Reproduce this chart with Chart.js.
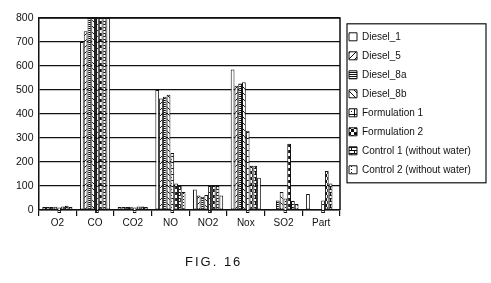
<!DOCTYPE html>
<html>
<head>
<meta charset="utf-8">
<script src="https://cdn.jsdelivr.net/npm/chart.js@4.4.1/dist/chart.umd.min.js"></script>
<style>
  html, body { margin: 0; padding: 0; background: #fff; }
  #wrap { position: relative; width: 491px; height: 283px; }
  #fig { position: absolute; left: 185px; top: 254px; font: 13px "Liberation Sans", sans-serif; letter-spacing: 2px; color: #111; }
</style>
</head>
<body>
<div id="wrap">
  <canvas id="grafico" width="491" height="283"></canvas>
  <div id="fig">FIG. 16</div>
</div>
<script>
// categorias e valores
var categorias = ["O2", "CO", "CO2", "NO", "NO2", "Nox", "SO2", "Part"];
var series = ["Diesel_1", "Diesel_5", "Diesel_8a", "Diesel_8b", "Formulation 1", "Formulation 2", "Control 1 (without water)", "Control 2 (without water)"];

var diesel1 = [12, 700, 12, 500, 85, 585, 0, 67];
var diesel5 = [12, 745, 12, 465, 60, 518, 0, 0];
var diesel8a = [12, 800, 12, 472, 55, 527, 40, 0];
var diesel8b = [14, 800, 14, 480, 62, 532, 75, 0];
var formulation1 = [10, 800, 10, 237, 100, 330, 48, 40];
var formulation1Base = -12;
var formulation2 = [15, 800, 15, 110, 100, 184, 276, 163];
var control1 = [18, 800, 15, 100, 100, 184, 38, 110];
var control2 = [12, 800, 12, 75, 60, 134, 25, 0];

var yTicks = [0, 100, 200, 300, 400, 500, 600, 700, 800];

// padroes preto e branco
function padrao(tipo) {
    var c = document.createElement("canvas");
    c.width = 6; c.height = 6;
    var g = c.getContext("2d");
    g.fillStyle = "#fff";
    g.fillRect(0, 0, 6, 6);
    g.strokeStyle = "#111";
    g.fillStyle = "#111";
    g.lineWidth = 1;
    if (tipo == "slash") {
        g.beginPath(); g.moveTo(0, 6); g.lineTo(6, 0); g.stroke();
    } else if (tipo == "hlines") {
        g.fillRect(0, 0, 6, 1); g.fillRect(0, 2, 6, 1); g.fillRect(0, 4, 6, 1);
    } else if (tipo == "backslash") {
        g.beginPath(); g.moveTo(0, 0); g.lineTo(6, 6); g.stroke();
    } else if (tipo == "grid") {
        g.fillRect(0, 0, 6, 1); g.fillRect(0, 0, 1, 6); g.fillRect(3, 3, 1, 1);
    } else if (tipo == "checker") {
        g.fillRect(0, 0, 3, 3); g.fillRect(3, 3, 3, 3);
    } else if (tipo == "brick") {
        g.fillRect(0, 0, 6, 1); g.fillRect(0, 3, 6, 1); g.fillRect(0, 0, 1, 3); g.fillRect(3, 3, 1, 3);
    } else if (tipo == "vline") {
        g.fillRect(3, 1, 1, 1); g.fillRect(3, 4, 1, 1);
    }
    return g.createPattern(c, "repeat");
}

var ctx = document.getElementById("grafico").getContext("2d");

function ds(label, data, tipo, extra) {
    var d = {
        label: label,
        data: data,
        backgroundColor: tipo ? padrao(tipo) : "#fff",
        borderColor: "#111",
        borderWidth: 1,
        borderSkipped: false
    };
    for (var k in extra) d[k] = extra[k];
    return d;
}

var larguraLegenda = 151;

var borda = {
    id: "borda",
    afterInit: function (chart) {
        // legenda mais larga, o texto nao cabe na medida padrao
        var lg = chart.legend;
        var fitOrig = lg.fit;
        lg.fit = function () {
            fitOrig.call(this);
            this.width = larguraLegenda;
        };
    },
    afterDraw: function (chart) {
        var a = chart.chartArea;
        var g = chart.ctx;
        g.save();
        g.strokeStyle = "#111";
        g.lineWidth = 1.5;
        g.beginPath();
        g.moveTo(a.left, a.top);
        g.lineTo(a.right, a.top);
        g.lineTo(a.right, a.bottom);
        g.stroke();
        // caixa da legenda
        var hb = chart.legend.legendHitBoxes;
        if (hb && hb.length) {
            var x0 = a.right + 7, y0 = hb[0].top - 8;
            var ult = hb[hb.length - 1];
            var x1 = chart.width - 5, y1 = ult.top + ult.height + 8;
            g.lineWidth = 1.2;
            g.strokeRect(x0, y0, x1 - x0, y1 - y0);
        }
        g.restore();
    }
};

var chartGraph = new Chart(ctx, {
    type: "bar",
    data: {
        labels: categorias,
        datasets: [
            ds(series[0], diesel1, null),
            ds(series[1], diesel5, "slash"),
            ds(series[2], diesel8a, "hlines"),
            ds(series[3], diesel8b, "backslash"),
            ds(series[4], formulation1.map(function (v) { return [formulation1Base, v]; }), "grid", { clip: false }),
            ds(series[5], formulation2, "checker"),
            ds(series[6], control1, "brick"),
            ds(series[7], control2, "vline")
        ]
    },
    options: {
        responsive: false,
        animation: false,
        layout: {
            padding: { left: 11, right: 0, top: 18, bottom: 53 }
        },
        datasets: {
            bar: { categoryPercentage: 0.8, barPercentage: 1.0 }
        },
        scales: {
            x: {
                offset: true,
                grid: { display: true, drawOnChartArea: false, offset: true, color: "#111", tickLength: 6, lineWidth: 1.2 },
                border: { display: true, color: "#111", width: 1.5 },
                ticks: { color: "#111", font: { family: "Liberation Sans", size: 10 }, padding: 1 }
            },
            y: {
                min: 0,
                max: 800,
                afterBuildTicks: function (axis) {
                    axis.ticks = yTicks.map(function (v) { return { value: v }; });
                },
                grid: { color: "#111", lineWidth: 1.2, drawTicks: false },
                border: { display: true, color: "#111", width: 1.5 },
                ticks: { color: "#111", font: { family: "Liberation Sans", size: 10.5 }, padding: 5 }
            }
        },
        plugins: {
            legend: {
                position: "right",
                align: "start",
                title: { display: true, text: " ", font: { size: 4 }, padding: 0 },
                labels: {
                    color: "#111",
                    font: { family: "Liberation Sans", size: 10 },
                    boxWidth: 8,
                    boxHeight: 8,
                    padding: 9
                }
            },
            title: { display: false },
            tooltip: { enabled: false }
        }
    },
    plugins: [borda]
});
</script>
</body>
</html>
